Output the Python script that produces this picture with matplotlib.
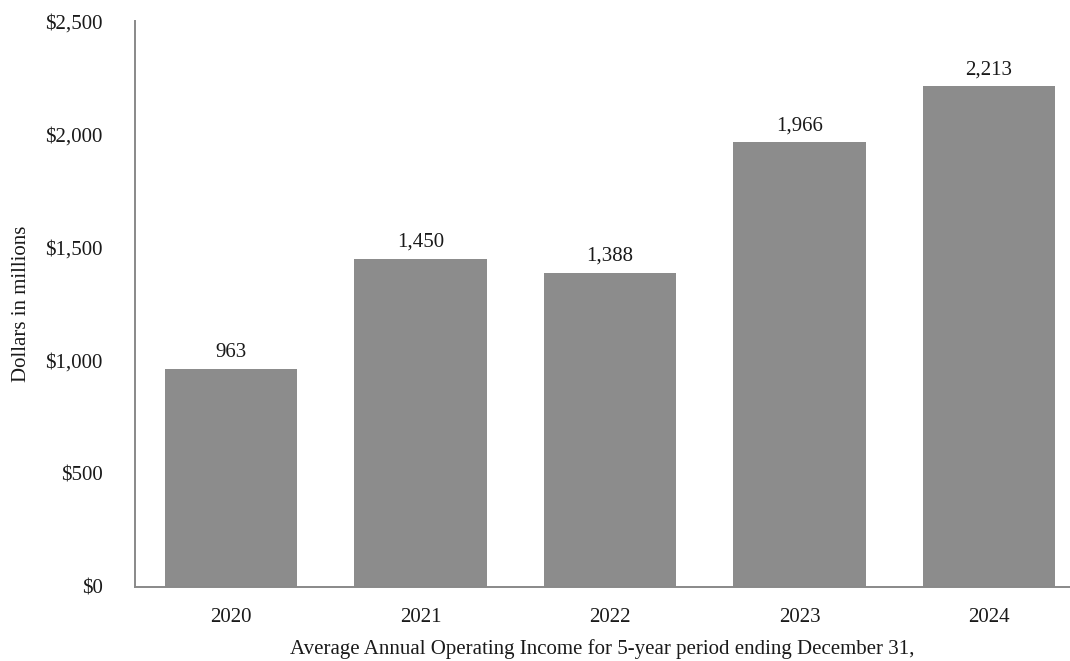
import matplotlib.pyplot as plt
from matplotlib.ticker import FuncFormatter

years = ["2020", "2021", "2022", "2023", "2024"]
income = [963, 1450, 1388, 1966, 2213]
yticks = [0, 500, 1000, 1500, 2000, 2500]

plt.rcParams['font.family'] = ['Liberation Serif', 'DejaVu Serif']
FS = 15

fig = plt.figure(figsize=(10.7, 6.61), dpi=100)
ax = fig.add_axes([0.126, 0.112, 0.874, 0.856])

x = range(len(years))
bars = ax.bar(x, income, width=0.70, color="#8c8c8c", zorder=2)

for b, v in zip(bars, income):
    ax.annotate(f"{v:,}", (b.get_x() + b.get_width() / 2, v),
                xytext=(0, 5), textcoords="offset points",
                ha="center", va="bottom", fontsize=FS, color="#1a1a1a")

ax.set_xlim(-0.507, 4.427)
ax.set_ylim(0, 2500)
ax.set_xticks(list(x))
ax.set_xticklabels(years)
ax.set_yticks(yticks)
ax.yaxis.set_major_formatter(FuncFormatter(lambda v, p: f"${v:,.0f}"))
ax.tick_params(length=0, labelsize=FS, colors="#1a1a1a")
ax.tick_params(axis="x", pad=15)
ax.tick_params(axis="y", pad=23)

for s in ["top", "right"]:
    ax.spines[s].set_visible(False)
for s in ["left", "bottom"]:
    ax.spines[s].set_color("#898989")
    ax.spines[s].set_linewidth(1.4)

ax.set_ylabel("Dollars in millions", fontsize=FS, color="#1a1a1a", labelpad=10)
ax.set_xlabel("Average Annual Operating Income for 5-year period ending December 31,",
              fontsize=FS, color="#1a1a1a", labelpad=9)

plt.savefig("out.png", dpi=100)
